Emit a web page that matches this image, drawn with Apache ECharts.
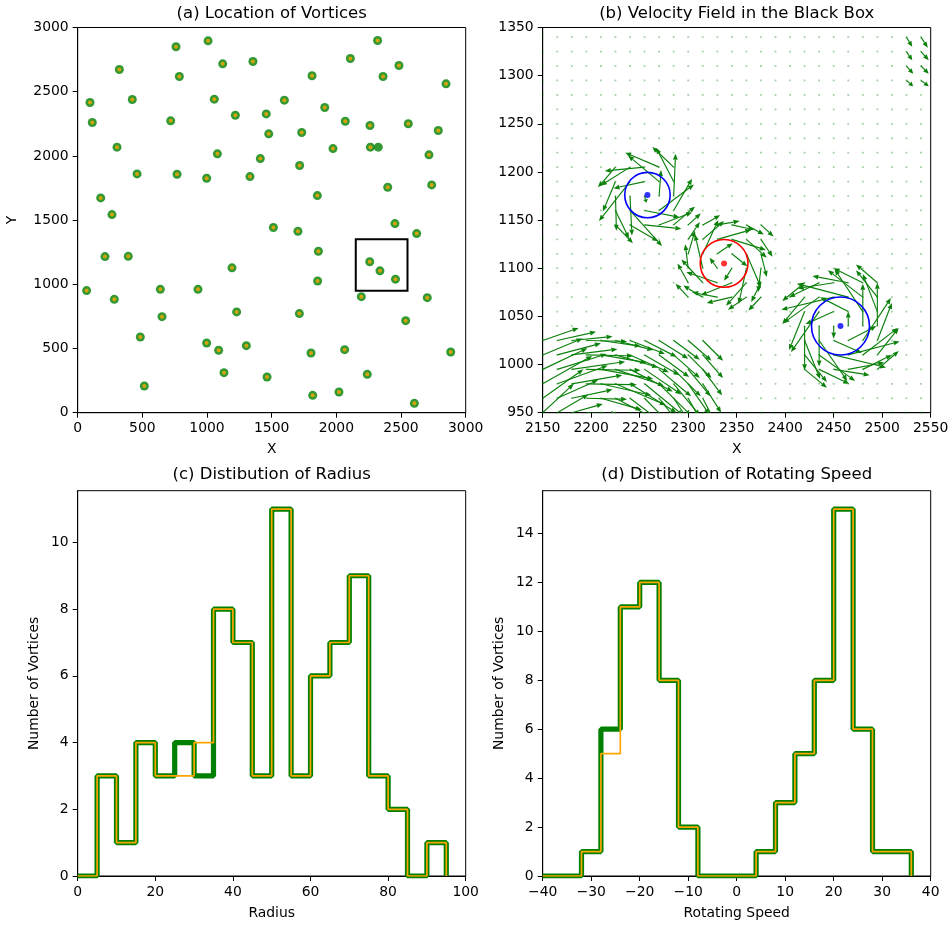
<!DOCTYPE html>
<html>
<head>
<meta charset="utf-8">
<script src="https://cdn.jsdelivr.net/npm/echarts@6/dist/echarts.min.js"></script>
<style>
  html, body { margin: 0; padding: 0; background: #fff; }
  #main { width: 950px; height: 927px; }
</style>
</head>
<body>
<div id="main"></div>
<script>
// (a) vortex locations: green ring + orange centre
var locX = [95, 113, 322, 422, 304, 459, 178, 265, 760, 1008, 786, 1121, 1355, 1056, 719, 1219, 1458, 1598, 1477, 1732,
  1080, 1412, 768, 997, 1332, 1716, 1812, 1910, 2069, 2108, 2319, 2361, 2484, 2848, 2260, 2556, 2788, 2263, 1974, 2716,
  2397, 2737, 1853, 2453, 1513, 1703, 2621, 211, 391, 1193, 1861, 2258, 2337, 2457, 69, 283, 639, 930, 652, 1229,
  1855, 1714, 2193, 2703, 2536, 484, 997, 1090, 1304, 1804, 2064, 2884, 1131, 1464, 2239, 515, 1817, 2020, 2603];
var locY = [2416, 2260, 2673, 2439, 2068, 1860, 1673, 1543, 2850, 2896, 2618, 2717, 2735, 2442, 2273, 2317, 2327, 2434, 2172, 2182,
  2016, 1979, 1857, 1826, 1839, 1925, 2624, 2377, 2270, 2759, 2899, 2618, 2704, 2561, 2237, 2250, 2198, 2068, 2057, 2008,
  1756, 1774, 1691, 1473, 1442, 1413, 1395, 1216, 1218, 1128, 1257, 1176, 1105, 1040, 951, 883, 961, 961, 748, 785,
  1026, 772, 904, 896, 717, 590, 543, 486, 522, 465, 491, 473, 312, 278, 299, 208, 135, 161, 73];
// one green-only vortex
var extraX = [2324];
var extraY = [2068];
var boxRect = [[2150, 950, 2550, 1350]];

// (b) velocity field
var gridX = [2150, 2165, 2180, 2195, 2210, 2225, 2240, 2255, 2270, 2285, 2300, 2315, 2330, 2345, 2360, 2375, 2390,
  2405, 2420, 2435, 2450, 2465, 2480, 2495, 2510, 2525, 2540];
var gridY = [950, 965, 980, 995, 1010, 1025, 1040, 1055, 1070, 1085, 1100, 1115, 1130, 1145, 1160, 1175, 1190,
  1205, 1220, 1235, 1250, 1265, 1280, 1295, 1310, 1325, 1340];

var arrowsBlueA = [
  [2225, 1205, -18, -21], [2240, 1205, -30, -19], [2255, 1205, -41, -4], [2270, 1205, -35, 15], [2285, 1205, -22, 21],
  [2225, 1190, -13, -31], [2240, 1190, -32, -41], [2255, 1190, -32, -7], [2270, 1190, -32, 27], [2285, 1190, -18, 35],
  [2225, 1175, 1, -36], [2240, 1175, 2, -41], [2255, 1175, 2, -7], [2270, 1175, 2, 27], [2285, 1175, 2, 44],
  [2225, 1160, 14, -29], [2240, 1160, 33, -37], [2255, 1160, 36, -7], [2270, 1160, 36, 27], [2285, 1160, 19, 33],
  [2225, 1145, 18, -19], [2240, 1145, 29, -17], [2255, 1145, 38, -4], [2270, 1145, 34, 13], [2285, 1145, 22, 19]
];
var arrowsRed = [
  [2300, 1145, 13, 12], [2315, 1145, 18, 10], [2330, 1145, 23, 4], [2345, 1145, 23, -5], [2360, 1145, 18, -10], [2375, 1145, 13, -12],
  [2300, 1130, 12, 18], [2315, 1130, 22, 19], [2330, 1130, 35, 10], [2345, 1130, 35, -11], [2360, 1130, 21, -19], [2375, 1130, 12, -18],
  [2300, 1115, 7, 24], [2315, 1115, 16, 35], [2330, 1115, 16, 11], [2345, 1115, 16, -13], [2360, 1115, 15, -35], [2375, 1115, 6, -24],
  [2300, 1100, -3, 25], [2315, 1100, -8, 35], [2330, 1100, -8, 11], [2345, 1100, -8, -13], [2360, 1100, -8, -37], [2375, 1100, -3, -25],
  [2300, 1085, -11, 20], [2315, 1085, -22, 24], [2330, 1085, -32, 11], [2345, 1085, -32, -13], [2360, 1085, -21, -24], [2375, 1085, -10, -20],
  [2300, 1070, -13, 14], [2315, 1070, -20, 12], [2330, 1070, -26, 5], [2345, 1070, -26, -6], [2360, 1070, -19, -13], [2375, 1070, -13, -14]
];
var arrowsBlueB = [
  [2420, 1085, -23, -19], [2435, 1085, -31, -15], [2450, 1085, -37, -6], [2465, 1085, -37, 7], [2480, 1085, -30, 15], [2495, 1085, -22, 19],
  [2420, 1070, -23, -28], [2435, 1070, -37, -27], [2450, 1070, -54, -13], [2465, 1070, -53, 14], [2480, 1070, -36, 28], [2495, 1070, -22, 28],
  [2420, 1055, -16, -40], [2435, 1055, -29, -42], [2450, 1055, -29, -13], [2465, 1055, -29, 15], [2480, 1055, -29, 44], [2495, 1055, -15, 39],
  [2420, 1040, 0, -46], [2435, 1040, 0, -42], [2450, 1040, 0, -13], [2465, 1040, 0, 15], [2480, 1040, 0, 44], [2495, 1040, 0, 45],
  [2420, 1025, 16, -40], [2435, 1025, 29, -42], [2450, 1025, 29, -13], [2465, 1025, 29, 15], [2480, 1025, 29, 44], [2495, 1025, 15, 39],
  [2420, 1010, 23, -28], [2435, 1010, 37, -27], [2450, 1010, 54, -13], [2465, 1010, 53, 14], [2480, 1010, 36, 28], [2495, 1010, 22, 28],
  [2420, 995, 23, -19], [2435, 995, 31, -15], [2450, 995, 37, -6], [2465, 995, 37, 7], [2480, 995, 30, 15], [2495, 995, 22, 19]
];
var arrowsLowerLeft = [
  [2150, 1025, 37, 13], [2165, 1025, 40, 9], [2180, 1025, 42, 4], [2195, 1025, 42, -1], [2210, 1025, 41, -6], [2225, 1025, 39, -10],
  [2240, 1025, 36, -14], [2255, 1025, 33, -17], [2270, 1025, 30, -19], [2285, 1025, 27, -20], [2300, 1025, 24, -21], [2315, 1025, 21, -21],
  [2150, 1010, 41, 17], [2165, 1010, 45, 12], [2180, 1010, 47, 6], [2195, 1010, 48, -1], [2210, 1010, 47, -8], [2225, 1010, 44, -13],
  [2240, 1010, 40, -18], [2255, 1010, 36, -21], [2270, 1010, 31, -23], [2285, 1010, 27, -24], [2300, 1010, 24, -24], [2315, 1010, 21, -24],
  [2150, 995, 46, 22], [2165, 995, 51, 16], [2180, 995, 55, 8], [2195, 995, 56, -1], [2210, 995, 54, -10], [2225, 995, 50, -17],
  [2240, 995, 44, -23], [2255, 995, 38, -26], [2270, 995, 33, -28], [2285, 995, 28, -28], [2300, 995, 23, -28], [2315, 995, 20, -27],
  [2150, 980, 51, 29], [2165, 980, 52, 19], [2180, 980, 52, 9], [2195, 980, 52, -1], [2210, 980, 52, -12], [2225, 980, 52, -22],
  [2240, 980, 48, -30], [2255, 980, 40, -33], [2270, 980, 33, -33], [2285, 980, 27, -33], [2300, 980, 22, -32], [2315, 980, 19, -30],
  [2150, 965, 42, 30], [2165, 965, 42, 19], [2180, 965, 42, 9], [2195, 965, 42, -1], [2210, 965, 42, -12], [2225, 965, 42, -22],
  [2240, 965, 42, -32], [2255, 965, 41, -42], [2270, 965, 32, -41], [2285, 965, 25, -38], [2300, 965, 20, -36], [2315, 965, 17, -33],
  [2150, 950, 32, 30], [2165, 950, 32, 19], [2180, 950, 32, 9], [2195, 950, 32, -1], [2210, 950, 32, -12], [2225, 950, 32, -22],
  [2240, 950, 32, -32], [2255, 950, 32, -43], [2270, 950, 29, -49], [2285, 950, 22, -44], [2300, 950, 17, -40], [2315, 950, 14, -36]
];
var arrowsUpperRight = [
  [2525, 1340, 6, -10], [2540, 1340, 7, -11], [2525, 1325, 6, -9], [2540, 1325, 8, -9],
  [2525, 1310, 7, -8], [2540, 1310, 8, -8], [2525, 1295, 7, -6], [2540, 1295, 8, -6]
];
// vortex centre x, y, radius
var blueVortices = [[2258, 1176, 23.5], [2457, 1040, 30]];
var redVortices = [[2337, 1105, 24.7]];

// (c) radius histogram
var radiusEdges = [0, 5, 10, 15, 20, 25, 30, 35, 40, 45, 50, 55, 60, 65, 70, 75, 80, 85, 90, 95];
var radiusGreen = [0, 3, 1, 4, 3, 4, 3, 8, 7, 3, 11, 3, 6, 7, 9, 3, 2, 0, 1];
var radiusOrange = [0, 3, 1, 4, 3, 3, 4, 8, 7, 3, 11, 3, 6, 7, 9, 3, 2, 0, 1];

// (d) rotating speed histogram
var speedEdges = [-40, -36, -32, -28, -24, -20, -16, -12, -8, -4, 0, 4, 8, 12, 16, 20, 24, 28, 32, 36];
var speedGreen = [0, 0, 1, 6, 11, 12, 8, 2, 0, 0, 0, 1, 3, 5, 8, 15, 6, 1, 1];
var speedOrange = [0, 0, 1, 5, 11, 12, 8, 2, 0, 0, 0, 1, 3, 5, 8, 15, 6, 1, 1];

var FONT = 'DejaVu Sans';
var GREEN = '#008000';
var ORANGE = '#ffa500';
var ARROW = '#0b800b';

function zip(xs, ys) {
  return xs.map(function (x, i) { return [x, ys[i]]; });
}

function stepData(edges, counts) {
  var d = counts.map(function (c, i) { return [edges[i], c]; });
  d.push([edges[edges.length - 1], 0]);
  return d;
}

var dots = [];
gridY.forEach(function (y) {
  gridX.forEach(function (x) { dots.push([x, y]); });
});

function renderArrow(params, api) {
  var x = api.value(0), y = api.value(1);
  var p0 = api.coord([x, y]);
  var p1 = api.coord([x + api.value(2), y + api.value(3)]);
  var dx = p1[0] - p0[0], dy = p1[1] - p0[1];
  var len = Math.sqrt(dx * dx + dy * dy);
  if (len < 0.5) return;
  var ux = dx / len, uy = dy / len;
  var hl = Math.min(6, len * 0.5), hw = 2.4;
  var bx = p1[0] - ux * hl, by = p1[1] - uy * hl;
  return {
    type: 'group',
    children: [
      { type: 'line', shape: { x1: p0[0], y1: p0[1], x2: bx, y2: by }, style: { stroke: ARROW, lineWidth: 1.15 } },
      { type: 'polygon', shape: { points: [p1, [bx - uy * hw, by + ux * hw], [bx + uy * hw, by - ux * hw]] }, style: { fill: ARROW } }
    ]
  };
}

function circleRenderer(color) {
  return function (params, api) {
    var c = api.coord([api.value(0), api.value(1)]);
    var s = api.size([api.value(2), api.value(2)]);
    return {
      type: 'circle',
      shape: { cx: c[0], cy: c[1], r: (s[0] + s[1]) / 2 },
      style: { fill: 'none', stroke: color, lineWidth: 1.6 }
    };
  };
}

function arrowSeries(data) {
  return {
    type: 'custom', xAxisIndex: 1, yAxisIndex: 1, clip: true, silent: true,
    renderItem: renderArrow, encode: { x: 0, y: 1 }, data: data, z: 3
  };
}

function plainFmt(v) {
  return v < 0 ? '\u2212' + (-v) : String(v);
}

var grids = [
  { left: 77.7, top: 27.5, width: 388, height: 385.2 },
  { left: 542.7, top: 27.5, width: 388, height: 385.2 },
  { left: 77.7, top: 490.7, width: 388, height: 385.3 },
  { left: 542.7, top: 490.7, width: 388, height: 385.3 }
].map(function (g) {
  g.show = true;
  g.borderColor = '#000';
  g.borderWidth = 1;
  g.containLabel = false;
  g.outerBoundsMode = 'none';
  return g;
});

function axis(gi, min, max, interval, name, gap, isY) {
  var a = {
    type: 'value', gridIndex: gi, min: min, max: max, interval: interval,
    name: name, nameLocation: 'middle', nameGap: gap,
    nameTextStyle: { fontFamily: FONT, fontSize: 13.9, color: '#000' },
    axisLine: { show: true, onZero: false, lineStyle: { color: '#000', width: 1 } },
    axisTick: { show: true, inside: false, length: 5, lineStyle: { color: '#000', width: 1 } },
    axisLabel: {
      show: true, margin: 9, fontFamily: FONT, fontSize: 13.9, color: '#000',
      showMaxLabel: (max % interval === 0), formatter: plainFmt
    },
    splitLine: { show: false }
  };
  if (isY) a.nameRotate = 90;
  return a;
}

var titles = [
  ['(a) Location of Vortices', 271.7, 5],
  ['(b) Velocity Field in the Black Box', 736.7, 5],
  ['(c) Distibution of Radius', 271.7, 466],
  ['(d) Distibution of Rotating Speed', 736.7, 466]
].map(function (t) {
  return {
    text: t[0], left: t[1], top: t[2], textAlign: 'center', padding: 0,
    textStyle: { fontFamily: FONT, fontSize: 16.5, fontWeight: 'normal', color: '#000' }
  };
});

var option = {
  animation: false,
  backgroundColor: '#fff',
  title: titles,
  grid: grids,
  xAxis: [
    axis(0, 0, 3000, 500, 'X', 30, false),
    axis(1, 2150, 2550, 50, 'X', 30, false),
    axis(2, 0, 100, 20, 'Radius', 30, false),
    axis(3, -40, 40, 10, 'Rotating Speed', 30, false)
  ],
  yAxis: [
    axis(0, 0, 3000, 500, 'Y', 58, true),
    axis(1, 950, 1350, 50, '', 0, true),
    axis(2, 0, 11.55, 2, 'Number of Vortices', 36, true),
    axis(3, 0, 15.75, 2, 'Number of Vortices', 36, true)
  ],
  series: [
    // (a)
    {
      type: 'scatter', xAxisIndex: 0, yAxisIndex: 0, symbol: 'circle', symbolSize: 9,
      itemStyle: { color: GREEN }, data: zip(locX.concat(extraX), locY.concat(extraY)), z: 2
    },
    {
      type: 'scatter', xAxisIndex: 0, yAxisIndex: 0, symbol: 'circle', symbolSize: 4,
      itemStyle: { color: ORANGE }, data: zip(locX, locY), z: 3
    },
    {
      type: 'custom', xAxisIndex: 0, yAxisIndex: 0, silent: true, z: 4, encode: { x: [0, 2], y: [1, 3] },
      renderItem: function (params, api) {
        var p0 = api.coord([api.value(0), api.value(1)]);
        var p1 = api.coord([api.value(2), api.value(3)]);
        return {
          type: 'rect',
          shape: { x: p0[0], y: p1[1], width: p1[0] - p0[0], height: p0[1] - p1[1] },
          style: { fill: 'none', stroke: '#000', lineWidth: 2 }
        };
      },
      data: boxRect
    },
    // (b)
    {
      type: 'scatter', xAxisIndex: 1, yAxisIndex: 1, symbol: 'rect', symbolSize: 1.8, silent: true,
      itemStyle: { color: 'rgba(0,128,0,0.45)' }, data: dots, z: 2
    },
    arrowSeries(arrowsLowerLeft),
    arrowSeries(arrowsUpperRight),
    arrowSeries(arrowsBlueA),
    arrowSeries(arrowsRed),
    arrowSeries(arrowsBlueB),
    {
      type: 'custom', xAxisIndex: 1, yAxisIndex: 1, silent: true, z: 5, encode: { x: 0, y: 1 },
      renderItem: circleRenderer('#0000ff'), data: blueVortices
    },
    {
      type: 'custom', xAxisIndex: 1, yAxisIndex: 1, silent: true, z: 5, encode: { x: 0, y: 1 },
      renderItem: circleRenderer('#ff0000'), data: redVortices
    },
    {
      type: 'scatter', xAxisIndex: 1, yAxisIndex: 1, symbolSize: 6, z: 6,
      itemStyle: { color: '#0000ff' }, data: blueVortices.map(function (v) { return [v[0], v[1]]; })
    },
    {
      type: 'scatter', xAxisIndex: 1, yAxisIndex: 1, symbolSize: 6, z: 6,
      itemStyle: { color: '#ff0000' }, data: redVortices.map(function (v) { return [v[0], v[1]]; })
    },
    // (c)
    {
      type: 'line', xAxisIndex: 2, yAxisIndex: 2, step: 'end', showSymbol: false, symbol: 'none',
      lineStyle: { color: GREEN, width: 5.2 }, data: stepData(radiusEdges, radiusGreen), z: 2
    },
    {
      type: 'line', xAxisIndex: 2, yAxisIndex: 2, step: 'end', showSymbol: false, symbol: 'none',
      lineStyle: { color: ORANGE, width: 1.7 }, data: stepData(radiusEdges, radiusOrange), z: 3
    },
    // (d)
    {
      type: 'line', xAxisIndex: 3, yAxisIndex: 3, step: 'end', showSymbol: false, symbol: 'none',
      lineStyle: { color: GREEN, width: 5.2 }, data: stepData(speedEdges, speedGreen), z: 2
    },
    {
      type: 'line', xAxisIndex: 3, yAxisIndex: 3, step: 'end', showSymbol: false, symbol: 'none',
      lineStyle: { color: ORANGE, width: 1.7 }, data: stepData(speedEdges, speedOrange), z: 3
    }
  ]
};

var chart = echarts.init(document.getElementById('main'), null, { renderer: 'canvas' });
chart.setOption(option);
</script>
</body>
</html>
